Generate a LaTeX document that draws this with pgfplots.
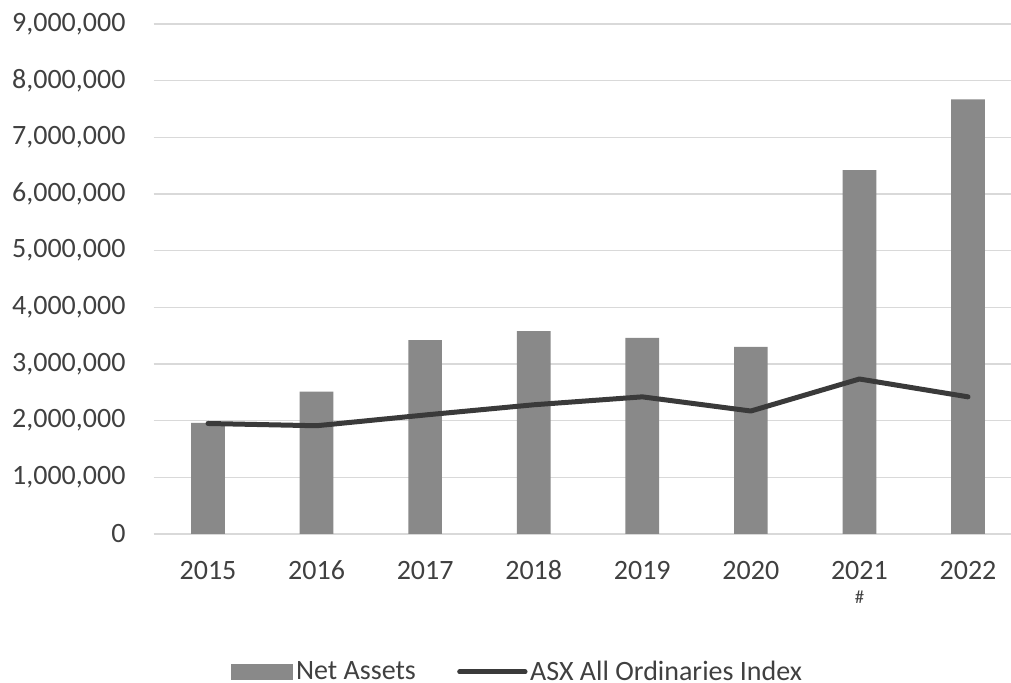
\documentclass[border=0pt]{standalone}
\usepackage{pgfplots}
\pgfplotsset{compat=1.18}
\usepackage{fontspec}
\setmainfont{Carlito}
\definecolor{barc}{HTML}{898989}
\definecolor{linec}{HTML}{3A3A3A}
\definecolor{gridc}{HTML}{D9D9D9}
\definecolor{txtc}{HTML}{404040}
\newcommand{\xs}{\rule{0pt}{15pt}}
\begin{document}
\begin{tikzpicture}
\useasboundingbox (-115.3pt,-111.75pt) rectangle (643pt,400.5pt);
\begin{axis}[
  at={(0,0)}, anchor=south west,
  scale only axis, width=643pt, height=382.5pt,
  xmin=-0.5, xmax=7.396, ymin=0, ymax=9000000,
  axis line style={draw=none},
  ymajorgrids, grid style={gridc, line width=1.2pt},
  major tick length=0pt,
  xtick={0,1,2,3,4,5,6,7},
  xticklabels={\xs 2015,\xs 2016,\xs 2017,\xs 2018,\xs 2019,\xs 2020,{\xs 2021\\[-7pt]{\fontsize{14}{16}\selectfont\#}},\xs 2022},
  ytick={0,1000000,2000000,3000000,4000000,5000000,6000000,7000000,8000000,9000000},
  scaled y ticks=false,
  /pgf/number format/assume math mode=true,
  yticklabel style={/pgf/number format/fixed, /pgf/number format/1000 sep={,}, anchor=east, inner sep=0pt, xshift=-21pt},
  xticklabel style={align=center, anchor=north, inner sep=0pt, yshift=-18.75pt},
  tick label style={font=\fontsize{21}{25}\selectfont, text=txtc},
  legend columns=2,
  legend style={at={(0.425,-0.2706)}, anchor=center, draw=none, fill=none,
    font=\fontsize{21}{25}\selectfont, text=txtc,
    nodes={inner sep=2pt},
    /tikz/every even column/.append style={column sep=29pt}},
]
\addplot[ybar, bar width=0.31, fill=barc, draw=none,
  legend image code/.code={\fill[barc] (0pt,-6pt) rectangle (46.5pt,6pt);}]
  coordinates {(0,1960000) (1,2510000) (2,3420000) (3,3580000) (4,3460000) (5,3300000) (6,6420000) (7,7670000)};
\addlegendentry{Net Assets}
\addplot[sharp plot, linec, line width=3.75pt, line join=round, line cap=round, mark=none,
  legend image code/.code={\draw[linec, line width=3.75pt, line cap=round] (0pt,0pt) -- (49pt,0pt);}]
  coordinates {(0,1950000) (1,1910000) (2,2100000) (3,2280000) (4,2420000) (5,2170000) (6,2735000) (7,2420000)};
\addlegendentry{ASX All Ordinaries Index}
\end{axis}
\end{tikzpicture}
\end{document}
